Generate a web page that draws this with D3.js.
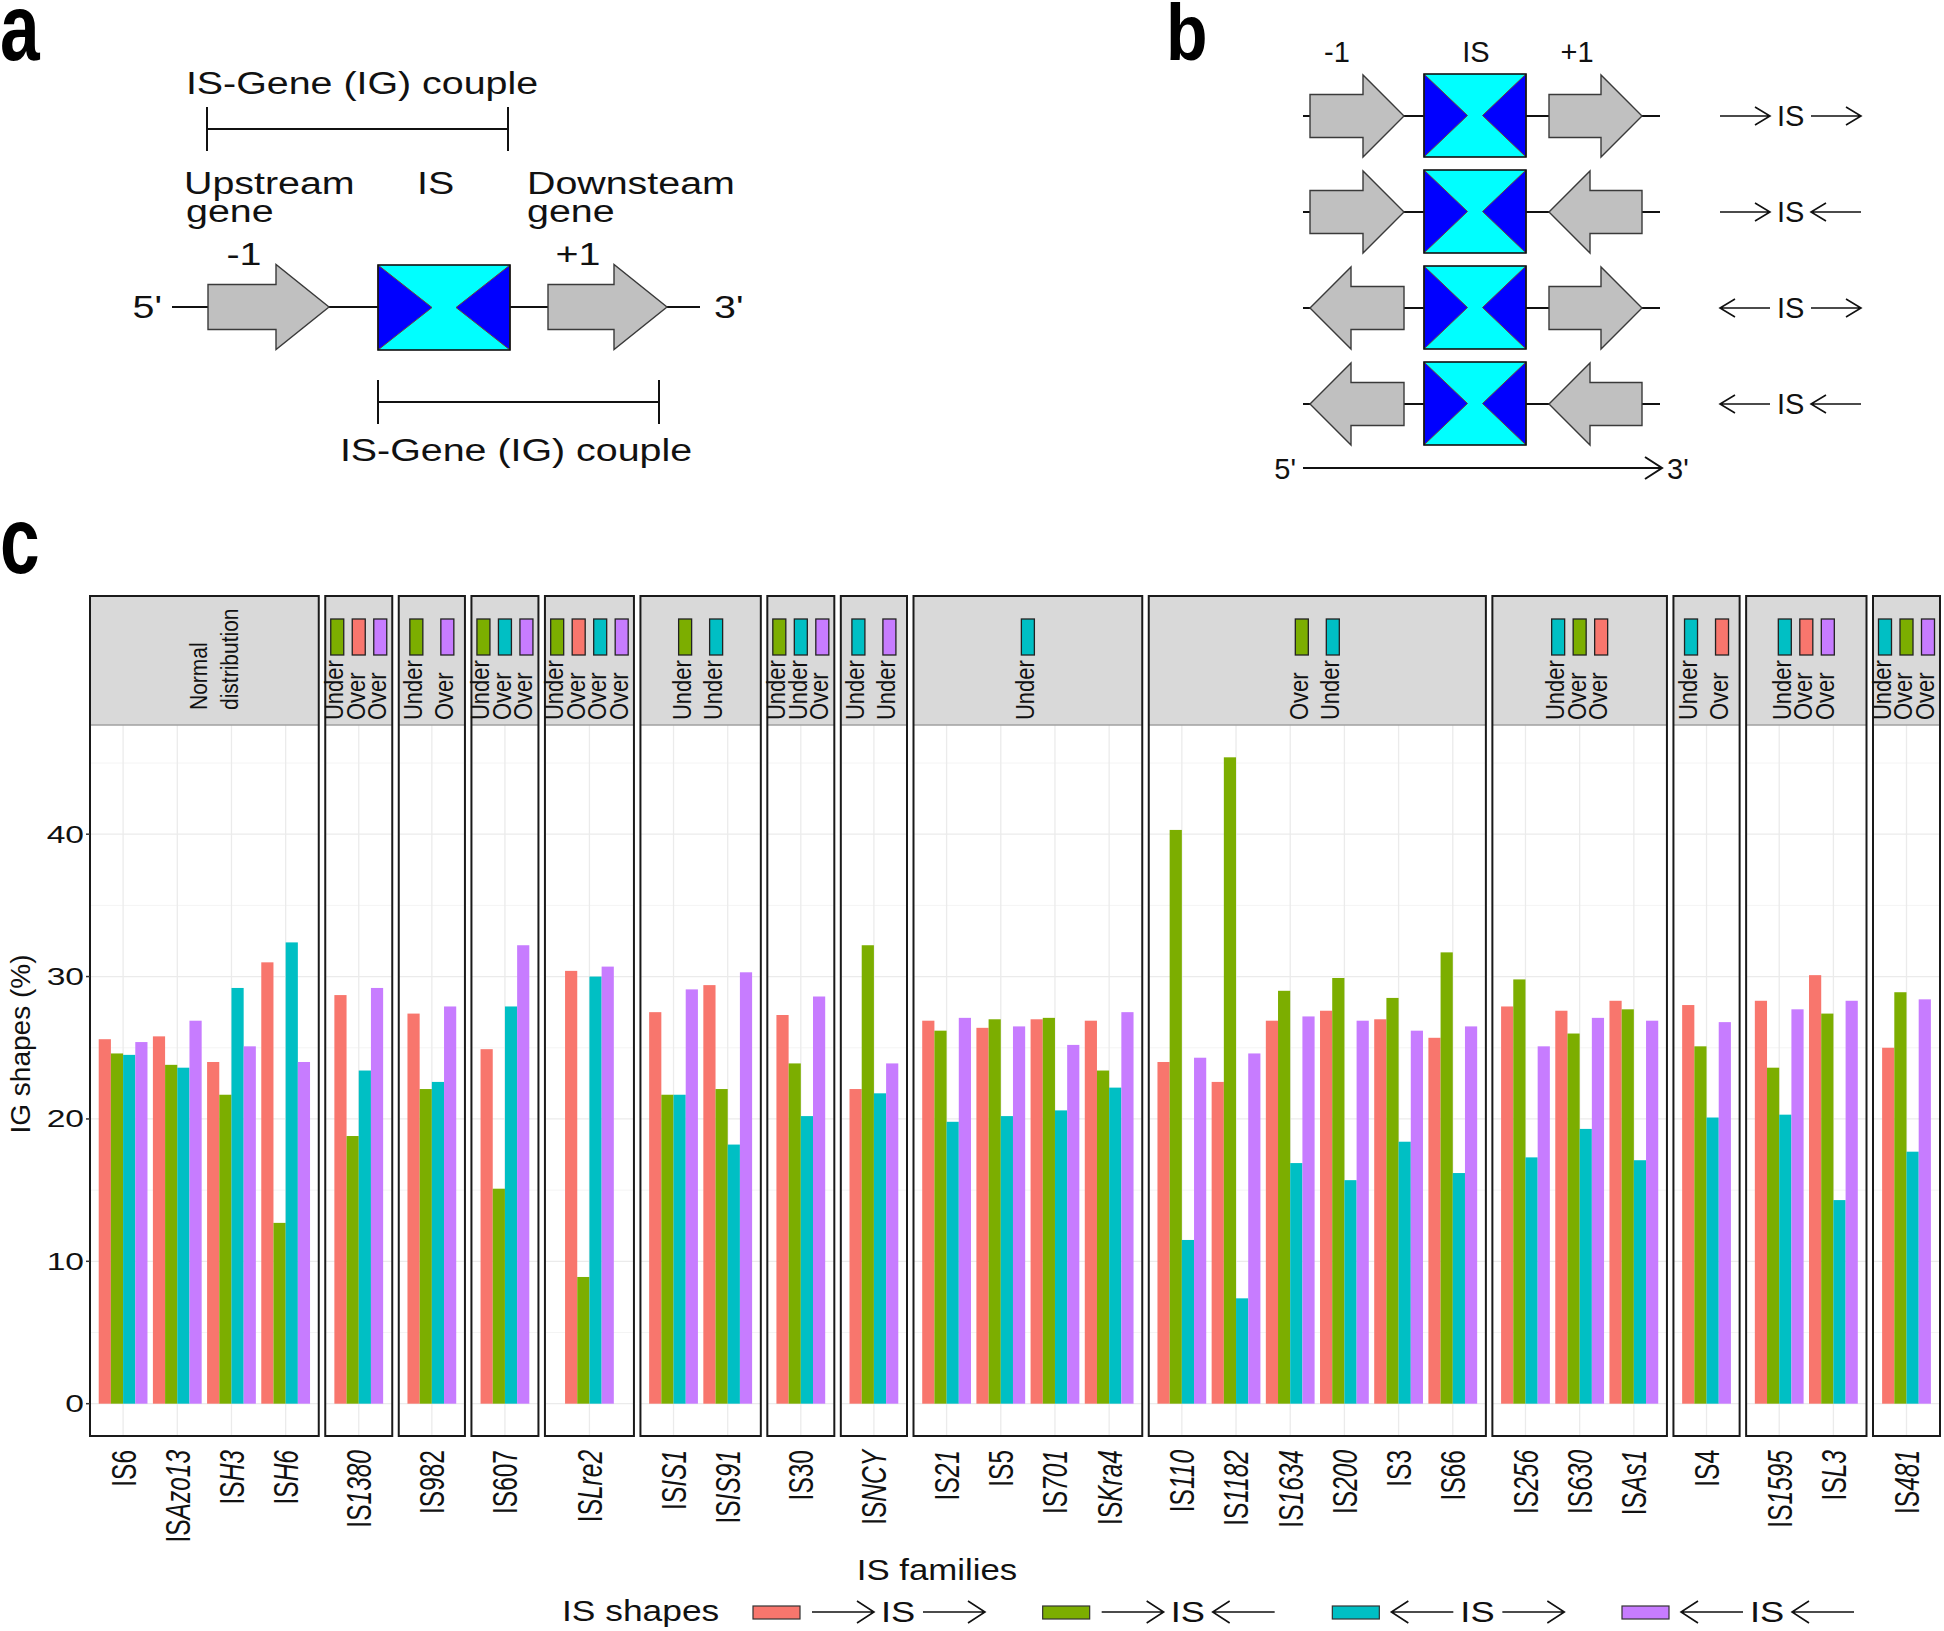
<!DOCTYPE html>
<html>
<head>
<meta charset="utf-8">
<script src="https://cdn.jsdelivr.net/npm/d3@7"></script>
<style>
  body { margin: 0; background: #fff; }
  svg { display: block; font-family: "Liberation Sans", Arial, sans-serif; }
</style>
</head>
<body>
<div id="chart"></div>
<script>
// ---- data ----
const families = ["IS6","ISAzo13","ISH3","ISH6","IS1380","IS982","IS607","ISLre2","ISIS1","ISIS91","IS30","ISNCY",
  "IS21","IS5","IS701","ISKra4","IS110","IS1182","IS1634","IS200","IS3","IS66","IS256","IS630","ISAs1","IS4","IS1595","ISL3","IS481"];
const italicTail = ["","Azo13","H3","H6","1380","","","Lre2","IS1","IS91","","NCY",
  "21","","701","Kra4","110","1182","1634","200","","","256","630","As1","","1595","L3","481"];
const panelCounts = [4,1,1,1,1,2,1,1,4,6,3,1,2,1];

const shapeCodes = ["RR","RL","LR","LL"];   // ->IS->, ->IS<-, <-IS->, <-IS<-
const shapeColors = ["#F8766D","#7CAE00","#00BFC4","#C77CFF"];

const rrPct = [25.6,25.8,24.0,31.0,28.7,27.4,24.9,30.4,27.5,29.4,27.3,22.1,26.9,26.4,27.0,26.9,24.0,22.6,26.9,27.6,27.0,25.7,27.9,27.6,28.3,28.0,28.3,30.1,25.0];
const rlPct = [24.6,23.8,21.7,12.7,18.8,22.1,15.1,8.9,21.7,22.1,23.9,32.2,26.2,27.0,27.1,23.4,40.3,45.4,29.0,29.9,28.5,31.7,29.8,26.0,27.7,25.1,23.6,27.4,28.9];
const lrPct = [24.5,23.6,29.2,32.4,23.4,22.6,27.9,30.0,21.7,18.2,20.2,21.8,19.8,20.2,20.6,22.2,11.5,7.4,16.9,15.7,18.4,16.2,17.3,19.3,17.1,20.1,20.3,14.3,17.7];
const llPct = [25.4,26.9,25.1,24.0,29.2,27.9,32.2,30.7,29.1,30.3,28.6,23.9,27.1,26.5,25.2,27.5,24.3,24.6,27.2,26.9,26.2,26.5,25.1,27.1,26.9,26.8,27.7,28.3,28.4];

// strip annotations: shape index + trend per panel
const stripShape = [[],[1,0,3],[1,3],[1,2,3],[1,0,2,3],[1,2],[1,2,3],[2,3],[2],[1,2],[2,1,0],[2,0],[2,0,3],[2,1,3]];
const stripTrend = [[],["Under","Over","Over"],["Under","Over"],["Under","Over","Over"],["Under","Over","Over","Over"],
  ["Under","Under"],["Under","Under","Over"],["Under","Under"],["Under"],["Over","Under"],["Under","Over","Over"],
  ["Under","Over"],["Under","Over","Over"],["Under","Over","Over"]];

const yTicks = [0, 10, 20, 30, 40];

// ---- setup ----
const svg = d3.select("#chart").append("svg").attr("width", 1944).attr("height", 1631);

function txt(g, x, y, s, fs, anchor, sx, extra) {
  const t = g.append("text")
    .attr("transform", `translate(${x},${y}) scale(${sx || 1},1)`)
    .attr("text-anchor", anchor || "start")
    .style("font-size", fs + "px")
    .attr("fill", "#111")
    .text(s);
  if (extra) extra(t);
  return t;
}

function gene(g, xa, xb, cy, dir, headLen, bodyH, headH) {
  let pts;
  if (dir === "R") {
    const hb = xb - headLen;
    pts = [[xa,cy-bodyH],[hb,cy-bodyH],[hb,cy-headH],[xb,cy],[hb,cy+headH],[hb,cy+bodyH],[xa,cy+bodyH]];
  } else {
    const hb = xa + headLen;
    pts = [[xb,cy-bodyH],[hb,cy-bodyH],[hb,cy-headH],[xa,cy],[hb,cy+headH],[hb,cy+bodyH],[xb,cy+bodyH]];
  }
  g.append("path").attr("d", d3.line()(pts) + "Z")
    .attr("fill", "#c0c0c0").attr("stroke", "#3a3a3a").attr("stroke-width", 1.4);
}

function isBox(g, x, y, w, h, tipOff) {
  const cx = x + w / 2, cy = y + h / 2;
  g.append("rect").attr("x", x).attr("y", y).attr("width", w).attr("height", h).attr("fill", "#00ffff");
  g.append("path").attr("d", d3.line()([[x,y],[cx - tipOff,cy],[x,y+h]]) + "Z")
    .attr("fill", "#0000ff").attr("stroke", "#6b4a32").attr("stroke-width", 1);
  g.append("path").attr("d", d3.line()([[x+w,y],[cx + tipOff,cy],[x+w,y+h]]) + "Z")
    .attr("fill", "#0000ff").attr("stroke", "#6b4a32").attr("stroke-width", 1);
  g.append("rect").attr("x", x).attr("y", y).attr("width", w).attr("height", h)
    .attr("fill", "none").attr("stroke", "#111").attr("stroke-width", 1.6);
}

function lineArrow(g, x1, x2, y, dir, hl, hh, sw) {
  const tip = dir === "R" ? x2 : x1, d = dir === "R" ? 1 : -1;
  g.append("path")
    .attr("d", `M${x1},${y}H${x2}M${tip - d*hl},${y-hh}L${tip},${y}L${tip - d*hl},${y+hh}`)
    .attr("fill", "none").attr("stroke", "#111").attr("stroke-width", sw || 1.6);
}

function shapeSymbol(g, x, y, code, o) {
  lineArrow(g, x, x + o.len, y, code[0], o.hl, o.hh);
  const xs = x + o.len + o.gap;
  txt(g, xs, y + 0.36 * o.fs, "IS", o.fs, "start", o.sx);
  const x2 = xs + o.isW + o.gap;
  lineArrow(g, x2, x2 + o.len, y, code[1], o.hl, o.hh);
}

// panel letters
[["a",0,60,95,0.75],["b",1166,60,80,0.85],["c",0,573,95,0.75]].forEach(([s,x,y,fs,sx]) =>
  txt(svg, x, y, s, fs, "start", sx, t => t.style("font-weight", "bold").attr("fill", "#000")));

// ---- panel a ----
const ga = svg.append("g");
const fa = 31, sa = 1.27;
txt(ga, 362, 94, "IS-Gene (IG) couple", fa, "middle", sa);
ga.append("path").attr("d", "M207,129H508M207,107V151M508,107V151").attr("stroke", "#111").attr("stroke-width", 2).attr("fill", "none");
txt(ga, 184, 194, "Upstream", fa, "start", sa);
txt(ga, 186, 222, "gene", fa, "start", sa);
txt(ga, 417, 194, "IS", fa, "start", sa);
txt(ga, 527, 194, "Downsteam", fa, "start", sa);
txt(ga, 527, 222, "gene", fa, "start", sa);
txt(ga, 244, 265, "-1", fa, "middle", sa);
txt(ga, 578, 265, "+1", fa, "middle", sa);
txt(ga, 162, 318, "5'", fa, "end", sa);
txt(ga, 714, 318, "3'", fa, "start", sa);
ga.append("path").attr("d", "M172,307H700").attr("stroke", "#111").attr("stroke-width", 2);
gene(ga, 208, 329, 307, "R", 53, 22.5, 42.5);
gene(ga, 548, 667, 307, "R", 53, 22.5, 42.5);
isBox(ga, 378, 265, 132, 85, 12);
ga.append("path").attr("d", "M378,402H659M378,380V424M659,380V424").attr("stroke", "#111").attr("stroke-width", 2).attr("fill", "none");
txt(ga, 516, 461, "IS-Gene (IG) couple", fa, "middle", sa);

// ---- panel b ----
const gb = svg.append("g");
const fb = 29;
txt(gb, 1337, 62, "-1", fb, "middle");
txt(gb, 1476, 62, "IS", fb, "middle");
txt(gb, 1577, 62, "+1", fb, "middle");
const rowY = [116, 212, 308, 404];
shapeCodes.forEach((code, r) => {
  const y = rowY[r];
  gb.append("path").attr("d", `M1303,${y}H1660`).attr("stroke", "#111").attr("stroke-width", 2);
  gene(gb, 1310, 1404, y, code[0], 41, 21.5, 41);
  gene(gb, 1549, 1642, y, code[1], 41, 21.5, 41);
  isBox(gb, 1424, y - 42, 102, 83, 7.5);
  shapeSymbol(gb, 1720, y, code, { len: 50, gap: 7, isW: 27, fs: 29, sx: 1, hl: 15, hh: 9 });
});
lineArrow(gb, 1303, 1662, 468, "R", 17, 11, 2);
txt(gb, 1296, 479, "5'", fb, "end");
txt(gb, 1667, 479, "3'", fb, "start");

// ---- panel c ----
const W0 = 90, W1 = 1940, gap = 6.5, pad = 6;
const stripTop = 596, plotTop = 725, plotBottom = 1436;
const minWidth = k => 22 * k + 1;

let step = 50;
for (let it = 0; it < 6; it++) {
  let fixed = 0, flexCats = 0;
  panelCounts.forEach((n, i) => {
    const mw = minWidth(stripShape[i].length);
    if (n * step + 2 * pad < mw) fixed += mw; else { fixed += 2 * pad; flexCats += n; }
  });
  step = (W1 - W0 - gap * (panelCounts.length - 1) - fixed) / flexCats;
}

const allVals = rrPct.concat(rlPct, lrPct, llPct);
const vmax = d3.max(allVals), ex = vmax * 0.05;
const y = d3.scaleLinear().domain([-ex, vmax + ex]).range([plotBottom, plotTop]);

const series = [rrPct, rlPct, lrPct, llPct];
const gc = svg.append("g");

let start = 0, px = W0;
panelCounts.forEach((n, i) => {
  const fams = families.slice(start, start + n);
  const idx = d3.range(start, start + n);
  const w = Math.max(n * step + 2 * pad, minWidth(stripShape[i].length));
  const off = (w - n * step) / 2;
  const x = d3.scaleBand().domain(fams).range([off, off + n * step]);
  const xs = d3.scaleBand().domain(shapeCodes).range([x.bandwidth() * 0.05, x.bandwidth() * 0.95]);
  const g = gc.append("g").attr("transform", `translate(${px},0)`);

  g.append("rect").attr("x", 0).attr("y", stripTop).attr("width", w).attr("height", plotTop - stripTop).attr("fill", "#d9d9d9");
  // grid
  d3.range(5, 50, 10).forEach(v => g.append("line").attr("x1", 0).attr("x2", w).attr("y1", y(v)).attr("y2", y(v)).attr("stroke", "#f4f4f4").attr("stroke-width", 1));
  yTicks.forEach(v => g.append("line").attr("x1", 0).attr("x2", w).attr("y1", y(v)).attr("y2", y(v)).attr("stroke", "#ebebeb").attr("stroke-width", 1.3));
  fams.forEach(f => g.append("line").attr("x1", x(f) + x.bandwidth() / 2).attr("x2", x(f) + x.bandwidth() / 2)
    .attr("y1", plotTop).attr("y2", plotBottom).attr("stroke", "#ebebeb").attr("stroke-width", 1.3));

  // bars
  idx.forEach(j => {
    shapeCodes.forEach((c, s) => {
      g.append("rect")
        .attr("x", x(families[j]) + xs(c)).attr("width", xs.bandwidth())
        .attr("y", y(series[s][j])).attr("height", y(0) - y(series[s][j]))
        .attr("fill", shapeColors[s]);
    });
  });

  g.append("line").attr("x1", 0).attr("x2", w).attr("y1", plotTop).attr("y2", plotTop).attr("stroke", "#a0a0a0").attr("stroke-width", 1.5);
  g.append("rect").attr("x", 0).attr("y", stripTop).attr("width", w).attr("height", plotBottom - stripTop)
    .attr("fill", "none").attr("stroke", "#1a1a1a").attr("stroke-width", 2);

  // strip content
  const cx = w / 2;
  if (stripShape[i].length === 0) {
    ["Normal", "distribution"].forEach((s, k) =>
      g.append("text").attr("transform", `translate(${cx + 10 - 15.5 + 31 * k},710) rotate(-90) scale(1,1.15)`)
        .attr("dy", "0.35em").style("font-size", "21px").attr("fill", "#111").text(s));
  } else {
    const k = stripShape[i].length;
    const sp = k <= 2 ? 31 : 21.5;
    stripShape[i].forEach((s, m) => {
      const kc = cx + (m - (k - 1) / 2) * sp;
      g.append("rect").attr("x", kc - 6.5).attr("y", 619).attr("width", 13).attr("height", 36)
        .attr("fill", shapeColors[s]).attr("stroke", "#222").attr("stroke-width", 1.3);
      g.append("text").attr("transform", `translate(${kc - 3},720) rotate(-90) scale(1,1.15)`)
        .attr("dy", "0.35em").style("font-size", "22px").attr("fill", "#111").text(stripTrend[i][m]);
    });
  }

  // x labels
  fams.forEach((f, k) => {
    const j = start + k;
    const up = f.slice(0, f.length - italicTail[j].length);
    const t = svg.append("text")
      .attr("transform", `translate(${px + x(f) + x.bandwidth() / 2},1450) rotate(-90) scale(1,1.45)`)
      .attr("text-anchor", "end").attr("dy", "0.35em")
      .style("font-size", "24.5px").attr("fill", "#111");
    t.append("tspan").text(up);
    if (italicTail[j]) t.append("tspan").style("font-style", "italic").text(italicTail[j]);
  });

  start += n;
  px += w + gap;
});

// y axis
yTicks.forEach(v => {
  txt(svg, 84, y(v) + 8.5, String(v), 24, "end", 1.4);
  svg.append("line").attr("x1", 86).attr("x2", 90).attr("y1", y(v)).attr("y2", y(v)).attr("stroke", "#333").attr("stroke-width", 1.5);
});
svg.append("text").attr("transform", "translate(20,1044) rotate(-90)")
  .attr("text-anchor", "middle").attr("dy", "0.35em").style("font-size", "28px").attr("fill", "#111").text("IG shapes (%)");

txt(svg, 937, 1580, "IS families", 29, "middle", 1.2);

// legend
txt(svg, 562, 1621, "IS shapes", 29, "start", 1.22);
const lx = d3.scalePoint().domain(shapeCodes).range([753, 1622]);
shapeCodes.forEach((c, s) => {
  svg.append("rect").attr("x", lx(c)).attr("y", 1606).attr("width", 47).attr("height", 13)
    .attr("fill", shapeColors[s]).attr("stroke", "#333").attr("stroke-width", 1.2);
  shapeSymbol(svg, lx(c) + 59, 1612, c, { len: 62, gap: 7, isW: 35, fs: 29, sx: 1.25, hl: 17, hh: 11 });
});
</script>
</body>
</html>
